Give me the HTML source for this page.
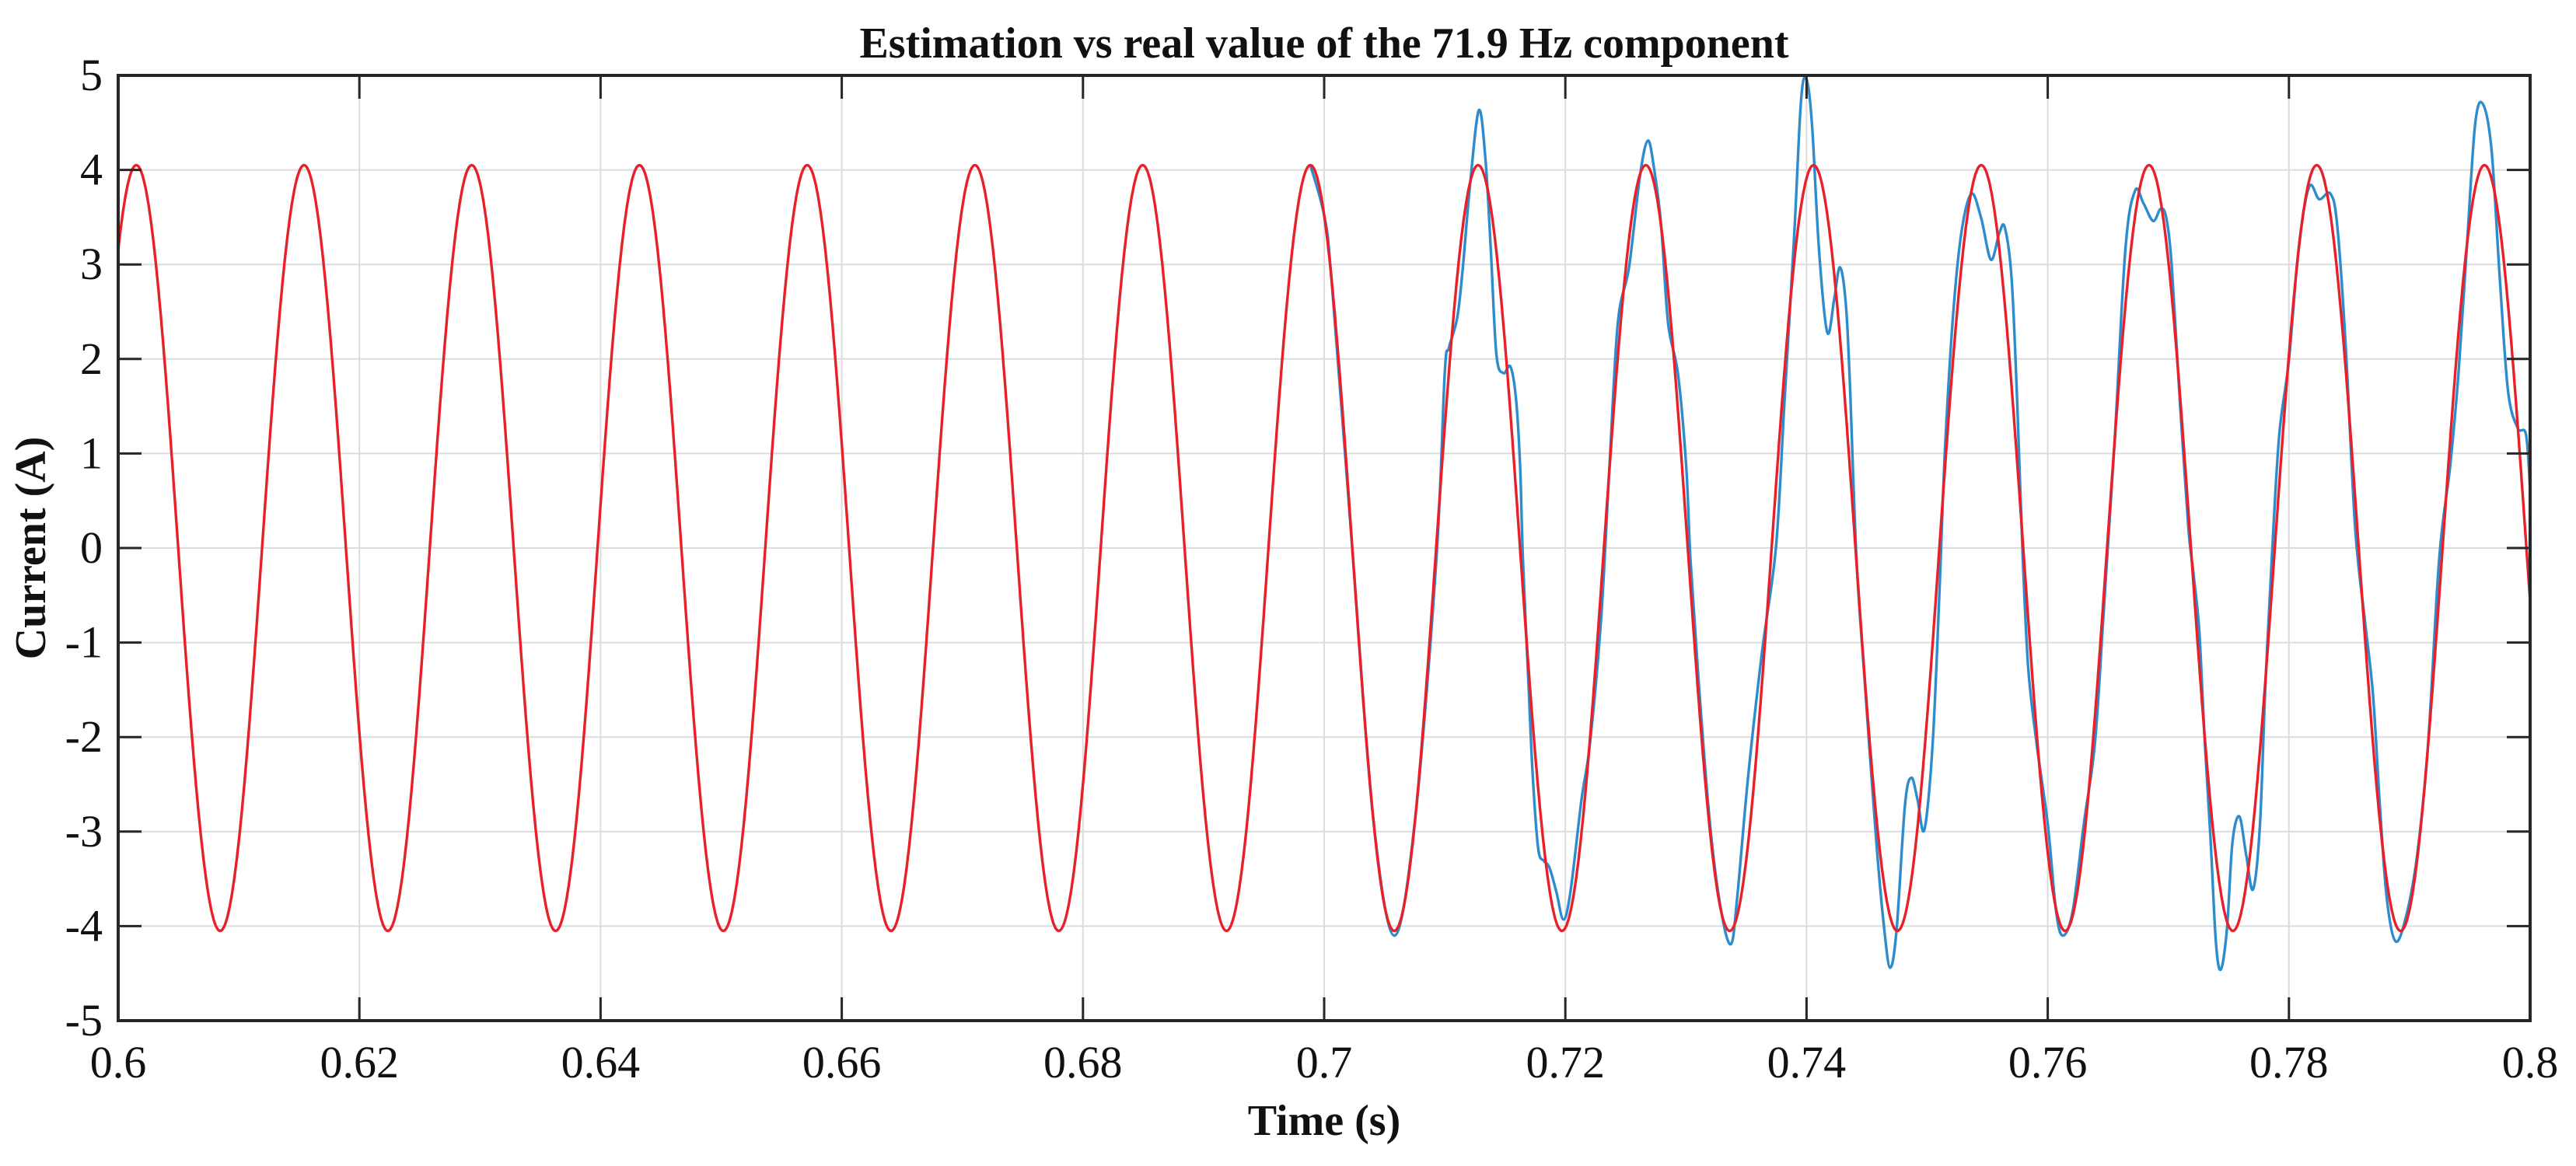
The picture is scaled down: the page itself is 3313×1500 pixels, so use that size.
<!DOCTYPE html>
<html><head><meta charset="utf-8">
<style>
html,body{margin:0;padding:0;background:#fff;}
svg{display:block;}
text{font-family:"Liberation Serif",serif;fill:#111;}
</style></head>
<body>
<svg id="chart" width="3313" height="1500" viewBox="0 0 3313 1500" xmlns="http://www.w3.org/2000/svg">
<rect width="3313" height="1500" fill="#fff"/>
<g id="grid"></g>
<g id="series"></g>
<g id="axes"></g>
<text x="1703" y="74" text-anchor="middle" font-size="56" font-weight="bold">Estimation vs real value of the 71.9 Hz component</text>
<text x="1703" y="1460" text-anchor="middle" font-size="56" font-weight="bold">Time (s)</text>
<text transform="translate(58,705) rotate(-90)" text-anchor="middle" font-size="56" font-weight="bold">Current (A)</text>
</svg>
<script>
const xTicks = [0.6,0.62,0.64,0.66,0.68,0.7,0.72,0.74,0.76,0.78,0.8];
const xTickLabels = ["0.6","0.62","0.64","0.66","0.68","0.7","0.72","0.74","0.76","0.78","0.8"];
const yTicks = [-5,-4,-3,-2,-1,0,1,2,3,4,5];
const yTickLabels = ["-5","-4","-3","-2","-1","0","1","2","3","4","5"];
// real value: sinusoid parameters (amplitude A, frequency Hz, time of a peak s)
const realAmplitude = 4.05;
const realFrequency = 71.9;
const realPeakTime = 0.6015;
// estimation (after 0.7 s it deviates from the real value); times and values
const estT = [0.69886,0.7000,0.7006,0.70233,0.70407,0.70583,0.70755,0.70931,0.71,0.71035,0.71104,0.7115,0.71208,0.71282,0.71336,0.71382,0.71428,0.71486,0.71544,0.7159,0.71625,0.71648,0.71694,0.71729,0.71775,0.71822,0.71868,0.71926,0.71984,0.72042,0.72134,0.72204,0.72296,0.72366,0.72435,0.72528,0.7262,0.72685,0.72736,0.72794,0.72852,0.72933,0.73002,0.73037,0.73106,0.73199,0.73292,0.73373,0.73425,0.73517,0.73632,0.73747,0.73816,0.73897,0.73954,0.74,0.74046,0.74103,0.74172,0.7423,0.74276,0.74322,0.74356,0.74414,0.74483,0.74575,0.74644,0.74694,0.74747,0.74816,0.74869,0.7492,0.74977,0.75046,0.75103,0.75149,0.75218,0.75287,0.75368,0.75448,0.75529,0.75598,0.75644,0.75701,0.75747,0.75793,0.75839,0.75908,0.76,0.76069,0.76126,0.76207,0.76299,0.76391,0.7646,0.76552,0.76644,0.76724,0.76793,0.76874,0.76937,0.76983,0.77029,0.77097,0.77166,0.77211,0.77257,0.77303,0.77349,0.77394,0.77435,0.77486,0.77531,0.77589,0.77646,0.77703,0.7776,0.77806,0.77863,0.7792,0.78,0.7808,0.78167,0.78251,0.78343,0.784,0.78469,0.78549,0.78629,0.78697,0.78754,0.78811,0.78884,0.78971,0.79063,0.79154,0.79246,0.79337,0.79406,0.79474,0.79543,0.79607,0.7968,0.79749,0.79817,0.79897,0.79966,0.8];
const estV = [4.05,3.52,2.86,0,-2.86,-4.10,-2.86,-0.11,1.85,2.12,2.44,2.97,3.82,4.63,4.14,3.16,2.05,1.85,1.92,1.59,0.87,-0.11,-1.42,-2.40,-3.18,-3.31,-3.38,-3.64,-3.93,-3.64,-2.66,-2.07,-0.76,0.87,2.38,2.97,3.95,4.31,4.01,3.42,2.38,1.85,0.87,-0.11,-1.42,-2.92,-3.84,-4.19,-3.70,-2.40,-1.09,0.02,1.53,3.29,4.73,4.96,4.47,3.16,2.28,2.64,2.97,2.64,1.85,-0.11,-1.42,-3.05,-4.03,-4.44,-4.03,-2.72,-2.43,-2.66,-2.98,-2.07,-0.43,1.07,2.51,3.36,3.75,3.49,3.05,3.33,3.39,2.84,1.53,-0.11,-1.28,-2.07,-2.92,-3.84,-4.10,-3.84,-2.92,-2.07,-0.76,1.07,3.16,3.78,3.65,3.46,3.59,3.49,2.97,1.53,0.22,-0.30,-0.89,-2.07,-3.05,-4.16,-4.46,-4.03,-3.12,-2.84,-3.25,-3.61,-2.92,-1.42,0.02,1.20,1.99,3.16,3.82,3.69,3.75,3.42,2.18,0.22,-0.76,-1.55,-2.72,-3.70,-4.16,-3.90,-3.25,-2.07,-0.11,0.87,1.85,3.16,4.47,4.70,4.21,2.84,1.66,1.27,1.20,0.61];

const L=152,R=3254,T=97,B=1313;
const x0=0.6,x1=0.8,y0=-5,y1=5;
function sx(t){return L+(t-x0)/(x1-x0)*(R-L);}
function sy(v){return B-(v-y0)/(y1-y0)*(B-T);}
const NS="http://www.w3.org/2000/svg";
function mk(tag,attrs,parent){const e=document.createElementNS(NS,tag);for(const k in attrs)e.setAttribute(k,attrs[k]);parent.appendChild(e);return e;}
const grid=document.getElementById('grid'),axes=document.getElementById('axes'),series=document.getElementById('series');

xTicks.forEach((t,i)=>{
  const X=sx(t);
  if(i>0&&i<xTicks.length-1){const g=mk('line',{x1:X,x2:X,y1:T,y2:B,stroke:'#dcdcdc','stroke-width':2},grid);
  
  }
  const a=mk('line',{x1:X,x2:X,y1:B,y2:B-30,stroke:'#262626','stroke-width':3},axes);
  
  
  const b=mk('line',{x1:X,x2:X,y1:T,y2:T+30,stroke:'#262626','stroke-width':3},axes);
  
  
  const lb=mk('text',{x:X,y:1386,'text-anchor':'middle','font-size':58},axes);
  lb.textContent=xTickLabels[i];
  
  
});
yTicks.forEach((v,i)=>{
  const Y=sy(v);
  if(i>0&&i<yTicks.length-1){const g=mk('line',{x1:L,x2:R,y1:Y,y2:Y,stroke:'#dcdcdc','stroke-width':2},grid);
  
  }
  const a=mk('line',{x1:L,x2:L+30,y1:Y,y2:Y,stroke:'#262626','stroke-width':3},axes);
  
  
  const b=mk('line',{x1:R,x2:R-30,y1:Y,y2:Y,stroke:'#262626','stroke-width':3},axes);
  
  
  const lb=mk('text',{x:132,y:Y+19,'text-anchor':'end','font-size':58},axes);
  lb.textContent=yTickLabels[i];
  
  
});
const frame=mk('rect',{x:L,y:T,width:R-L,height:B-T,fill:'none',stroke:'#262626','stroke-width':4},axes);



// estimation (blue): smooth curve through read points
const P=estT.map((t,i)=>[sx(t),sy(estV[i])]);
let d='M'+P[0][0].toFixed(1)+','+P[0][1].toFixed(1);
for(let i=0;i<P.length-1;i++){
  const p0=P[Math.max(0,i-1)],p1=P[i],p2=P[i+1],p3=P[Math.min(P.length-1,i+2)];
  const c1=[p1[0]+(p2[0]-p0[0])/6,p1[1]+(p2[1]-p0[1])/6];
  const c2=[p2[0]-(p3[0]-p1[0])/6,p2[1]-(p3[1]-p1[1])/6];
  d+=' C'+c1[0].toFixed(1)+','+c1[1].toFixed(1)+' '+c2[0].toFixed(1)+','+c2[1].toFixed(1)+' '+p2[0].toFixed(1)+','+p2[1].toFixed(1);
}
const est=mk('path',{d:d,fill:'none',stroke:'#2f8ccc','stroke-width':3.4,'stroke-linejoin':'round'},series);



// real value (red)
let rd='';
for(let k=0;k<=4000;k++){
  const t=x0+(x1-x0)*k/4000;
  const v=realAmplitude*Math.cos(2*Math.PI*realFrequency*(t-realPeakTime));
  rd+=(k?'L':'M')+sx(t).toFixed(1)+','+sy(v).toFixed(1);
}
const real=mk('path',{d:rd,fill:'none',stroke:'#e8202a','stroke-width':3.4,'stroke-linejoin':'round'},series);


</script>
</body></html>
